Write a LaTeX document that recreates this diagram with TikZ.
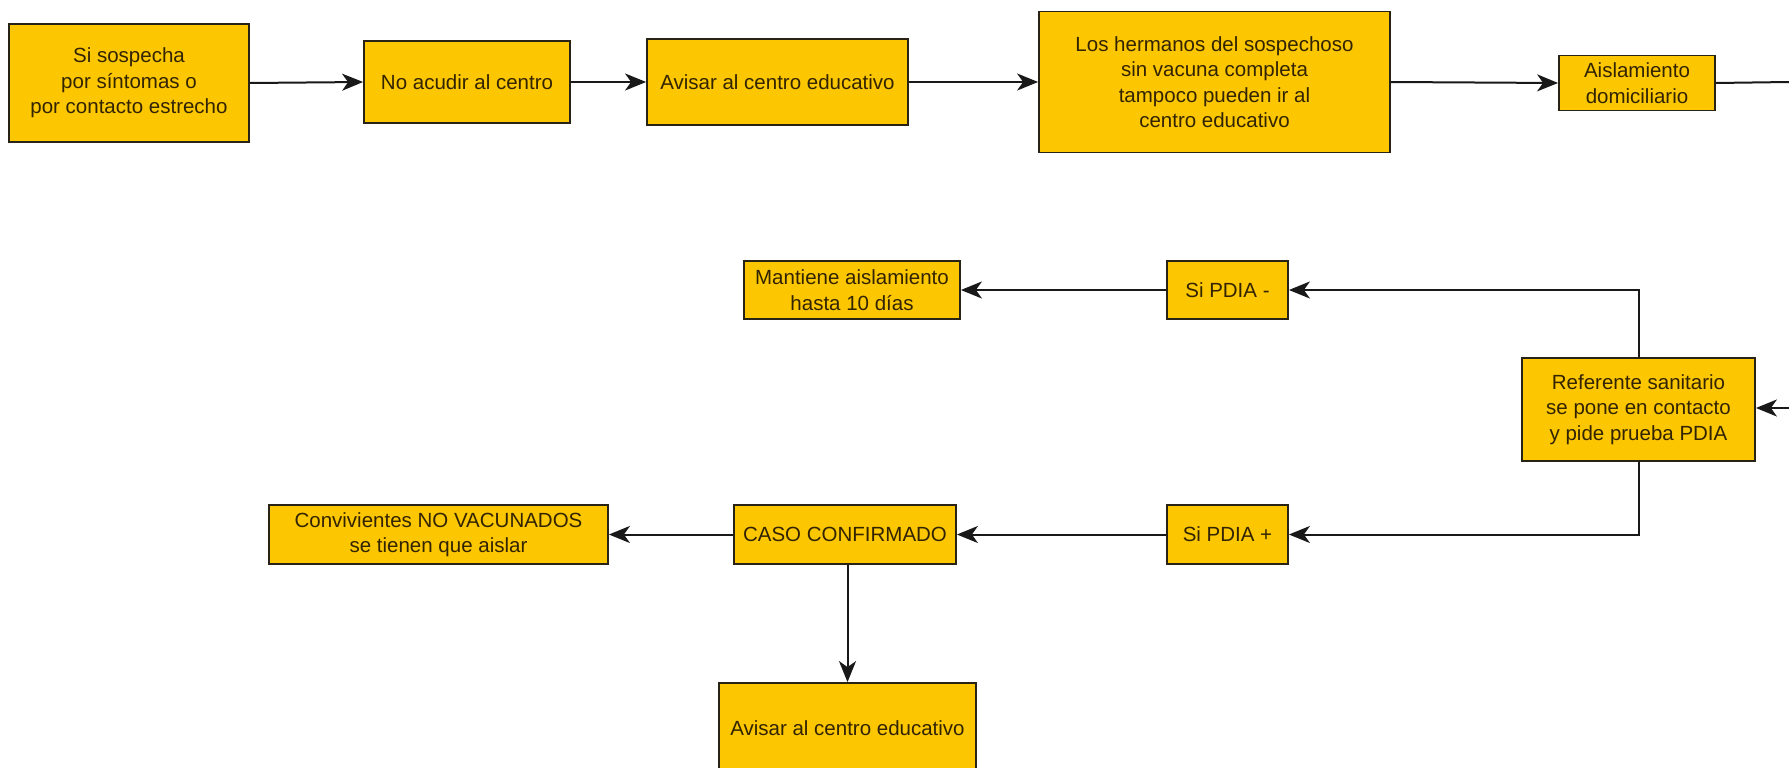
\documentclass[tikz,border=0pt]{standalone}
\usepackage{fontspec}
\setmainfont{Liberation Sans}
\usetikzlibrary{arrows.meta}
\definecolor{boxfill}{RGB}{252,198,0}
\definecolor{boxtext}{RGB}{50,36,0}
\definecolor{boxline}{RGB}{40,35,20}
\tikzset{
  flowbox/.style={draw=boxline, line width=1.8pt, fill=boxfill, text=boxtext,
    align=center, inner sep=0pt, font=\fontsize{20.5}{25.5}\selectfont},
  conn/.style={line width=2pt, draw=black!90},
  arr/.style={conn, -{Stealth[length=21pt,width=17pt,inset=6pt]}}
}
\begin{document}
\begin{tikzpicture}[x=1pt,y=-1pt]
\useasboundingbox (0,0) rectangle (1789,768);
\fill[white] (0,0) rectangle (1789,768);

\node[flowbox, minimum width=240pt, minimum height=118pt] (b1) at (129,83) {Si sospecha\\por síntomas o\\por contacto estrecho};
\node[flowbox, minimum width=206pt, minimum height=82pt] (b2) at (467,82) {No acudir al centro};
\node[flowbox, minimum width=261pt, minimum height=86pt] (b3) at (777.5,82) {Avisar al centro educativo};
\node[flowbox, minimum width=351pt, minimum height=141pt] (b4) at (1214.5,82) {Los hermanos del sospechoso\\sin vacuna completa\\tampoco pueden ir al\\centro educativo};
\node[flowbox, minimum width=156pt, minimum height=55pt] (b5) at (1637,83) {Aislamiento\\domiciliario};

\node[flowbox, minimum width=216pt, minimum height=58pt] (mant) at (852,290) {Mantiene aislamiento\\hasta 10 días};
\node[flowbox, minimum width=121pt, minimum height=58pt] (neg) at (1227.5,290) {Si PDIA -};
\node[flowbox, minimum width=233pt, minimum height=103pt] (ref) at (1638.5,409.5) {Referente sanitario\\se pone en contacto\\y pide prueba PDIA};
\node[flowbox, minimum width=121pt, minimum height=59pt] (pos) at (1227.5,534.5) {Si PDIA +};
\node[flowbox, minimum width=222pt, minimum height=59pt] (caso) at (845,534.5) {CASO CONFIRMADO};
\node[flowbox, minimum width=339pt, minimum height=59pt] (conv) at (438.5,534.5) {Convivientes NO VACUNADOS\\se tienen que aislar};
\node[flowbox, minimum width=257pt, minimum height=90pt] (av2) at (847.5,728) {Avisar al centro educativo};

\coordinate (e1) at (1789,82);
\coordinate (e2) at (1789,408);

\draw[arr] (b1.east) -- (b2.west);
\draw[arr] (b2.east) -- (b3.west);
\draw[arr] (b3.east) -- (b4.west);
\draw[arr] (b4.east) -- (b5.west);
\draw[conn] (b5.east) -- (e1);
\draw[arr] (e2) -- (ref.east |- e2);
\draw[arr] (ref.north) |- (neg.east);
\draw[arr] (neg.west) -- (mant.east);
\draw[arr] (ref.south) |- (pos.east);
\draw[arr] (pos.west) -- (caso.east);
\draw[arr] (caso.west) -- (conv.east);
\draw[arr] (caso.south -| av2.north) -- (av2.north);
\end{tikzpicture}
\end{document}
